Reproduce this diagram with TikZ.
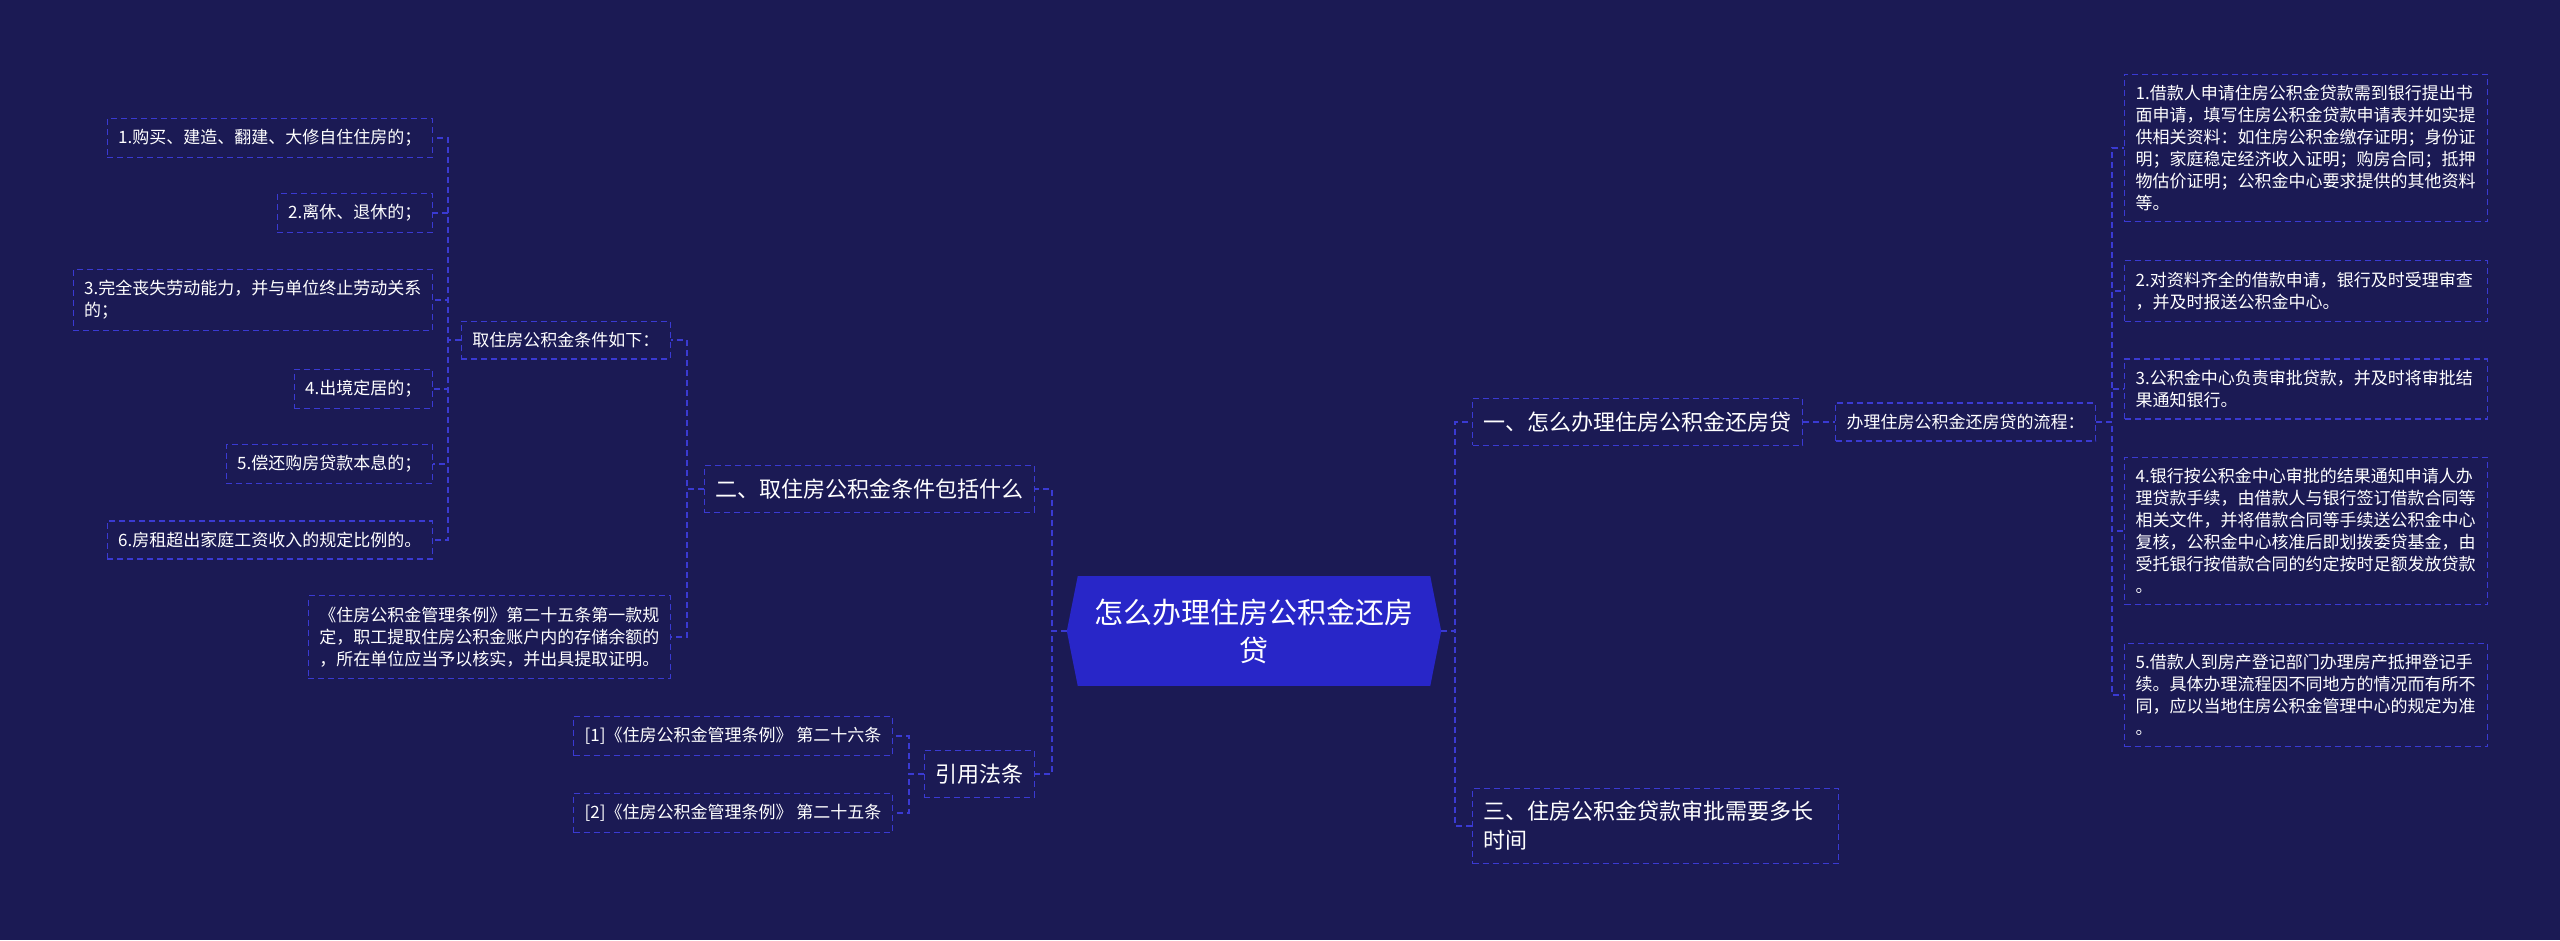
\documentclass[tikz,border=0pt]{standalone}
\usepackage{fontspec}
\setmainfont{Noto Sans CJK SC}
\usepackage{tikz}
\usetikzlibrary{positioning}
\definecolor{bgnavy}{RGB}{27,26,84}
\definecolor{hubblue}{RGB}{40,38,200}
\definecolor{linkblue}{RGB}{58,58,210}

\begin{document}
\begin{tikzpicture}[x=1pt, y=-1pt,
    every node/.style={text=white, font=\fontsize{17}{22}\selectfont},
    hub/.style={fill=hubblue, minimum width=352pt, minimum height=110pt,
                align=center, inner sep=0pt, font=\fontsize{29}{38}\selectfont},
    topic/.style={draw=linkblue, dash pattern=on 6pt off 4pt, line width=1.2pt,
                  align=left, inner xsep=11pt, inner ysep=13pt,
                  font=\fontsize{22}{29}\selectfont},
    leaf/.style={draw=linkblue, dash pattern=on 6pt off 4pt, line width=1.2pt,
                 align=left, inner xsep=11pt, inner ysep=11pt},
    link/.style={draw=linkblue, line width=1.6pt, dash pattern=on 6pt off 4pt},
  ]
    % canvas
    \fill[bgnavy] (0,0) rectangle (2560,940);
    \useasboundingbox (0,0) rectangle (2560,940);
    % central topic
    \node[hub] (hub) at (1254,631) {怎么办理住房公积金还房\\贷};
    \fill[hubblue] (hub.north west) -- ([xshift=-11pt]hub.west) -- (hub.south west) -- cycle;
    \fill[hubblue] (hub.north east) -- ([xshift=11pt]hub.east) -- (hub.south east) -- cycle;
    % left side
    \node[topic, anchor=east] (q2) at (1035,489) {二、取住房公积金条件包括什么};
    \node[topic, anchor=east] (cite) at (1035,774) {引用法条};
    \foreach \n in {q2, cite}
      \draw[link] ([xshift=-11pt]hub.west) -- ++(-15,0) |- (\n.east);
    \node[leaf, anchor=east] (cond) at (671,340) {取住房公积金条件如下：};
    \node[leaf, anchor=east] (rule) at (671,637)
      {《住房公积金管理条例》第二十五条第一款规\\定，职工提取住房公积金账户内的存储余额的\\，所在单位应当予以核实，并出具提取证明。};
    \foreach \n in {cond, rule}
      \draw[link] (q2.west) -- ++(-17,0) |- (\n.east);
    \foreach \y/\name/\lab in {%
      138/c1/{1.购买、建造、翻建、大修自住住房的；},
      213/c2/{2.离休、退休的；},
      300/c3/{3.完全丧失劳动能力，并与单位终止劳动关系\\的；},
      389/c4/{4.出境定居的；},
      464/c5/{5.偿还购房贷款本息的；},
      540/c6/{6.房租超出家庭工资收入的规定比例的。}} {
        \node[leaf, anchor=east] (\name) at (433,\y) {\lab};
        \draw[link] (cond.west) -- ++(-13,0) |- (\name.east);
      }
    \node[leaf, anchor=east] (ref1) at (893,736) {[1]《住房公积金管理条例》 第二十六条};
    \node[leaf, anchor=east] (ref2) at (893,813) {[2]《住房公积金管理条例》 第二十五条};
    \foreach \n in {ref1, ref2}
      \draw[link] (cite.west) -- ++(-15,0) |- (\n.east);
    % right side
    \node[topic, anchor=west] (q1) at (1472,422) {一、怎么办理住房公积金还房贷};
    \node[topic, anchor=west, text width=344pt] (q3) at (1472,826)
      {三、住房公积金贷款审批需要多长\\时间};
    \foreach \n in {q1, q3}
      \draw[link] ([xshift=11pt]hub.east) -- ++(14,0) |- (\n.west);
    \node[leaf, anchor=west] (flow) at (1835,422) {办理住房公积金还房贷的流程：};
    \draw[link] (q1.east) -- (flow.west);
    \foreach \y/\name/\lab in {%
      148/s1/{1.借款人申请住房公积金贷款需到银行提出书\\面申请，填写住房公积金贷款申请表并如实提\\供相关资料：如住房公积金缴存证明；身份证\\明；家庭稳定经济收入证明；购房合同；抵押\\物估价证明；公积金中心要求提供的其他资料\\等。},
      291/s2/{2.对资料齐全的借款申请，银行及时受理审查\\，并及时报送公积金中心。},
      389/s3/{3.公积金中心负责审批贷款，并及时将审批结\\果通知银行。},
      531/s4/{4.银行按公积金中心审批的结果通知申请人办\\理贷款手续，由借款人与银行签订借款合同等\\相关文件，并将借款合同等手续送公积金中心\\复核，公积金中心核准后即划拨委贷基金，由\\受托银行按借款合同的约定按时足额发放贷款\\。},
      695/s5/{5.借款人到房产登记部门办理房产抵押登记手\\续。具体办理流程因不同地方的情况而有所不\\同，应以当地住房公积金管理中心的规定为准\\。}} {
        \node[leaf, anchor=west, text width=341pt] (\name) at (2124,\y) {\lab};
        \draw[link] (flow.east) -- ++(16,0) |- (\name.west);
      }
\end{tikzpicture}
\end{document}
